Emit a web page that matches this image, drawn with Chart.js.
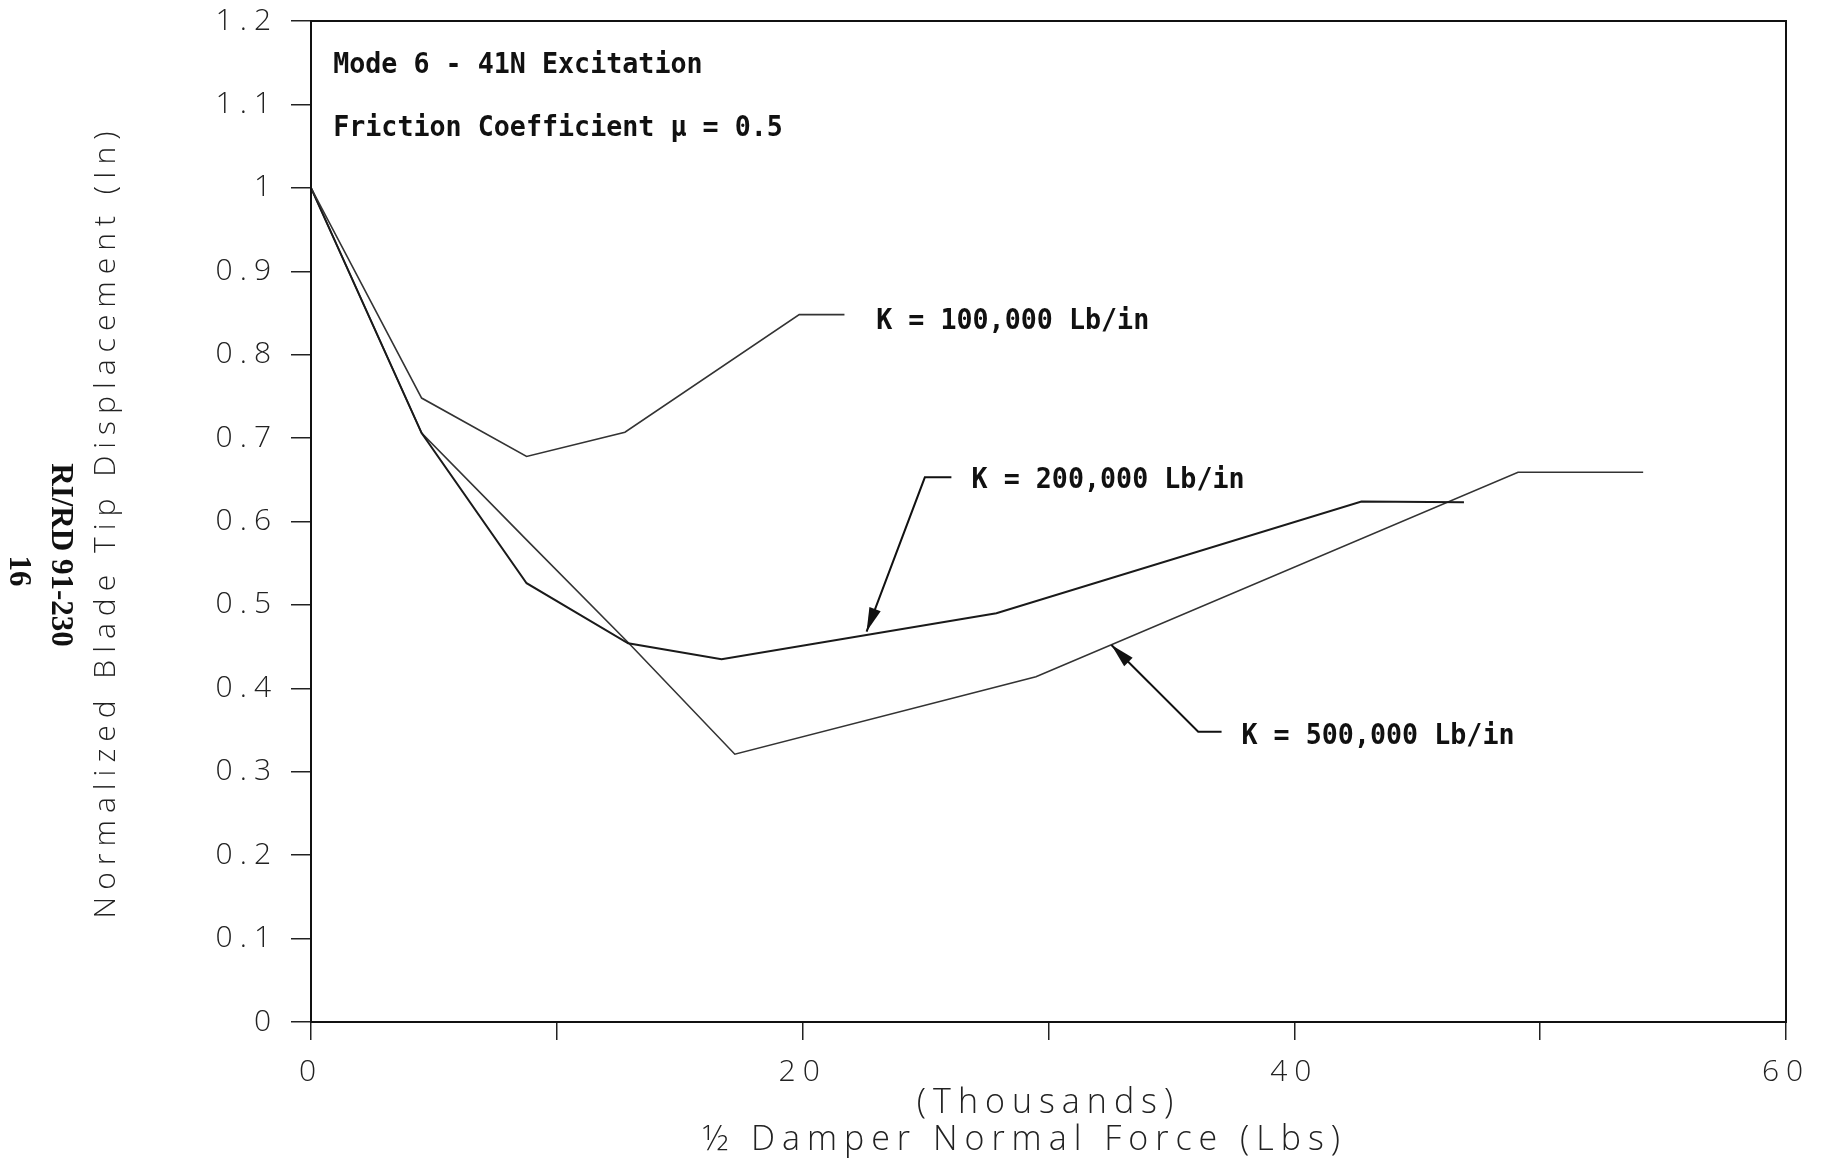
<!DOCTYPE html>
<html>
<head>
<meta charset="utf-8">
<script src="https://cdn.jsdelivr.net/npm/chart.js@4.4.0/dist/chart.umd.min.js"></script>
<style>
  html, body { margin: 0; padding: 0; background: #fff; }
</style>
</head>
<body>
<canvas id="grafico" width="1827" height="1159"></canvas>
<script>
// Datos (fuerza en miles de Lbs)
const fuerzaK100 = [0, 4.5, 8.77, 12.77, 19.86, 21.7];
const despK100 = [1.0, 0.748, 0.678, 0.707, 0.848, 0.848];

const fuerzaK200 = [0, 4.5, 8.77, 12.9, 16.7, 27.88, 42.73, 46.9];
const despK200 = [1.0, 0.706, 0.526, 0.454, 0.435, 0.49, 0.624, 0.623];

const fuerzaK500 = [0, 4.5, 8.77, 12.9, 17.24, 29.49, 49.1, 54.19];
const despK500 = [1.0, 0.706, 0.578, 0.455, 0.321, 0.414, 0.659, 0.659];

// Etiquetas de los ejes
const etiquetasX = ["0", "", "20", "", "40", "", "60"];
const etiquetasY = ["0", "0.1", "0.2", "0.3", "0.4", "0.5", "0.6", "0.7", "0.8", "0.9", "1", "1.1", "1.2"];

const tituloX = ["(Thousands)", "\u00BD Damper Normal Force (Lbs)   "];
const tituloY = "Normalized Blade Tip Displacement (In)";

const textoModo = "Mode 6 - 41N Excitation";
const textoFriccion = "Friction Coefficient \u03BC = 0.5";
const nombresK = ["K = 100,000 Lb/in", "K = 200,000 Lb/in", "K = 500,000 Lb/in"];

// Armar puntos {x, y} para cada curva
const puntos = (xs, ys) => xs.map((x, i) => ({ x: x, y: ys[i] }));

// Dibujar texto un poco angosto (como la fuente del plotter)
function textoAngosto(ctx, texto, x, y) {
  ctx.save();
  ctx.translate(x, y);
  ctx.scale(0.92, 1);
  ctx.fillText(texto, 0, 0);
  ctx.restore();
}

function flecha(ctx, x1, y1, x2, y2) {
  const ang = Math.atan2(y2 - y1, x2 - x1);
  const largo = 24, ancho = 6;
  ctx.beginPath();
  ctx.moveTo(x2, y2);
  ctx.lineTo(x2 - largo * Math.cos(ang) + ancho * Math.sin(ang), y2 - largo * Math.sin(ang) - ancho * Math.cos(ang));
  ctx.lineTo(x2 - largo * Math.cos(ang) - ancho * Math.sin(ang), y2 - largo * Math.sin(ang) + ancho * Math.cos(ang));
  ctx.closePath();
  ctx.fill();
}

// Plugin para marco, notas y flechas
const notas = {
  id: "notas",
  beforeDraw(chart) {
    chart.ctx.letterSpacing = "7px";
  },
  beforeDatasetsDraw(chart) {
    chart.ctx.letterSpacing = "0px";
  },
  afterDraw(chart) {
    const { ctx, chartArea, scales } = chart;
    const px = (v) => scales.x.getPixelForValue(v);
    const py = (v) => scales.y.getPixelForValue(v);
    ctx.save();
    ctx.letterSpacing = "0px";

    // marco superior y derecho
    ctx.strokeStyle = "#111";
    ctx.lineWidth = 2;
    ctx.strokeRect(chartArea.left, chartArea.top, chartArea.width, chartArea.height);

    // textos de la esquina
    ctx.fillStyle = "#111";
    ctx.font = "bold 29px 'DejaVu Sans Mono'";
    ctx.textBaseline = "alphabetic";
    ctx.textAlign = "left";
    textoAngosto(ctx, textoModo, px(0.9), py(1.138));
    textoAngosto(ctx, textoFriccion, px(0.9), py(1.062));

    // etiquetas de cada K
    textoAngosto(ctx, nombresK[0], px(22.99), py(0.831));
    textoAngosto(ctx, nombresK[1], px(26.87), py(0.64));
    textoAngosto(ctx, nombresK[2], px(37.85), py(0.333));

    // lineas guia y flechas
    ctx.strokeStyle = "#111";
    ctx.lineWidth = 2;
    ctx.beginPath();
    ctx.moveTo(px(26.05), py(0.653));
    ctx.lineTo(px(24.97), py(0.653));
    ctx.lineTo(px(22.6), py(0.468));
    ctx.stroke();
    flecha(ctx, px(24.97), py(0.653), px(22.6), py(0.468));

    ctx.beginPath();
    ctx.moveTo(px(37.04), py(0.348));
    ctx.lineTo(px(36.09), py(0.348));
    ctx.lineTo(px(32.56), py(0.452));
    ctx.stroke();
    flecha(ctx, px(36.09), py(0.348), px(32.56), py(0.452));

    // textos rotados al costado
    ctx.font = "bold 31px 'Liberation Serif'";
    ctx.textAlign = "center";
    ctx.textBaseline = "middle";
    ctx.translate(60, 555);
    ctx.rotate(Math.PI / 2);
    ctx.fillText("RI/RD 91-230", 0, 0);
    ctx.fillText("16", 16, 42);
    ctx.restore();
  }
};

const fuenteEje = { family: "'Open Sans', 'DejaVu Sans', sans-serif", size: 30, weight: "300" };
const fuenteTituloX = { family: "'Open Sans', 'DejaVu Sans', sans-serif", size: 34, weight: "300", lineHeight: 1.09 };
const fuenteTituloY = { family: "'Open Sans', 'DejaVu Sans', sans-serif", size: 30, weight: "300", lineHeight: 1.2 };

const contexto = document.getElementById("grafico").getContext("2d");
const graficoDesplazamiento = new Chart(contexto, {
  type: "line",
  data: {
    datasets: [
      {
        label: nombresK[0],
        data: puntos(fuerzaK100, despK100),
        borderColor: "#333",
        borderWidth: 1.6,
        pointRadius: 0,
        tension: 0,
      },
      {
        label: nombresK[1],
        data: puntos(fuerzaK200, despK200),
        borderColor: "#1a1a1a",
        borderWidth: 2,
        pointRadius: 0,
        tension: 0,
      },
      {
        label: nombresK[2],
        data: puntos(fuerzaK500, despK500),
        borderColor: "#333",
        borderWidth: 1.6,
        pointRadius: 0,
        tension: 0,
      },
    ],
  },
  options: {
    responsive: false,
    animation: false,
    layout: { padding: { left: 40, top: 21, right: 41, bottom: 0 } },
    plugins: {
      legend: { display: false },
      tooltip: { enabled: false },
    },
    scales: {
      x: {
        type: "linear",
        min: 0,
        max: 60,
        ticks: {
          stepSize: 10,
          autoSkip: false,
          maxRotation: 0,
          padding: 14,
          color: "#222",
          font: fuenteEje,
          callback: (valor, i) => etiquetasX[i],
        },
        grid: { drawOnChartArea: false, tickLength: 18, color: "#222", lineWidth: 1.5 },
        border: { color: "#111", width: 2 },
        title: {
          display: true,
          text: tituloX,
          color: "#222",
          font: fuenteTituloX,
          padding: { top: 0, bottom: 0 },
        },
        afterFit: (escala) => { escala.height = 137; },
      },
      y: {
        min: 0,
        max: 1.2,
        ticks: {
          stepSize: 0.1,
          autoSkip: false,
          padding: 13,
          color: "#222",
          font: fuenteEje,
          callback: (valor, i) => etiquetasY[i],
        },
        grid: { drawOnChartArea: false, tickLength: 20, color: "#222", lineWidth: 1.5 },
        border: { color: "#111", width: 2 },
        title: {
          display: true,
          text: tituloY,
          color: "#222",
          font: fuenteTituloY,
          padding: { top: 48, bottom: 0 },
        },
        afterFit: (escala) => {
          escala.width = 271;
          escala.paddingTop = 0;
          escala.paddingBottom = 0;
        },
      },
    },
  },
  plugins: [notas],
});
</script>
</body>
</html>
